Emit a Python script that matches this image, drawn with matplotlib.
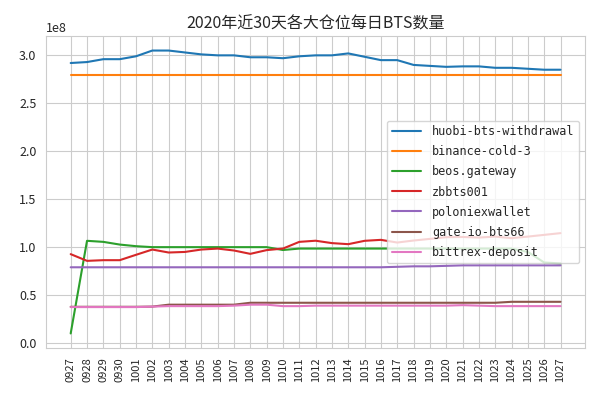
import matplotlib
matplotlib.use('Agg')
import matplotlib.pyplot as plt
import seaborn as sns

dates = ['0927', '0928', '0929', '0930', '1001', '1002', '1003', '1004', '1005', '1006',
         '1007', '1008', '1009', '1010', '1011', '1012', '1013', '1014', '1015', '1016',
         '1017', '1018', '1019', '1020', '1021', '1022', '1023', '1024', '1025', '1026', '1027']

# values in 1e8 BTS
huobi = [2.92, 2.93, 2.96, 2.96, 2.99, 3.05, 3.05, 3.03, 3.01, 3.00,
         3.00, 2.98, 2.98, 2.97, 2.99, 3.00, 3.00, 3.02, 2.985, 2.95,
         2.95, 2.90, 2.89, 2.88, 2.885, 2.885, 2.87, 2.87, 2.86, 2.85, 2.85]
binance = [2.80] * 31
beos = [0.10, 1.066, 1.055, 1.027, 1.01, 1.00, 1.00, 1.00, 1.00, 1.00,
        1.00, 1.00, 1.00, 0.97, 0.985, 0.985, 0.985, 0.985, 0.985, 0.985,
        0.985, 0.985, 0.985, 0.985, 0.985, 0.985, 0.985, 0.985, 0.95, 0.84, 0.83]
zbbts = [0.927, 0.857, 0.864, 0.864, 0.92, 0.975, 0.944, 0.95, 0.975, 0.985,
         0.965, 0.93, 0.969, 0.985, 1.055, 1.067, 1.042, 1.031, 1.066, 1.076,
         1.048, 1.069, 1.086, 1.104, 1.106, 1.10, 1.11, 1.094, 1.11, 1.128, 1.146]
poloniex = [0.79, 0.79, 0.79, 0.79, 0.79, 0.79, 0.79, 0.79, 0.79, 0.79,
            0.79, 0.79, 0.79, 0.79, 0.79, 0.79, 0.79, 0.79, 0.79, 0.79,
            0.795, 0.80, 0.80, 0.805, 0.81, 0.81, 0.81, 0.81, 0.81, 0.81, 0.81]
gateio = [0.378, 0.378, 0.378, 0.378, 0.378, 0.38, 0.40, 0.40, 0.40, 0.40,
          0.40, 0.42, 0.42, 0.42, 0.42, 0.42, 0.42, 0.42, 0.42, 0.42,
          0.42, 0.42, 0.42, 0.42, 0.42, 0.42, 0.42, 0.43, 0.43, 0.43, 0.43]
bittrex = [0.375, 0.375, 0.375, 0.375, 0.375, 0.38, 0.385, 0.385, 0.385, 0.385,
           0.39, 0.40, 0.40, 0.385, 0.385, 0.39, 0.39, 0.39, 0.39, 0.39,
           0.39, 0.39, 0.39, 0.39, 0.395, 0.39, 0.385, 0.385, 0.385, 0.385, 0.385]

series = [
    ('huobi-bts-withdrawal', huobi),
    ('binance-cold-3', binance),
    ('beos.gateway', beos),
    ('zbbts001', zbbts),
    ('poloniexwallet', poloniex),
    ('gate-io-bts66', gateio),
    ('bittrex-deposit', bittrex),
]

sns.set_style('whitegrid')
plt.rcParams['font.family'] = ['Noto Sans CJK SC', 'DejaVu Sans']
plt.rcParams['axes.unicode_minus'] = False

fig = plt.figure(figsize=(6, 4), dpi=100)
ax = fig.add_axes([0.077, 0.131, 0.898, 0.778])

for name, vals in series:
    ax.plot(dates, [v * 1e8 for v in vals], label=name, linewidth=1.5)

ax.set_title('2020年近30天各大仓位每日BTS数量', fontsize=11.5)
ax.tick_params(axis='x', labelsize=8, rotation=90)
ax.tick_params(axis='y', labelsize=9)
ax.yaxis.get_offset_text().set_fontsize(9)

ax.legend(loc='center right', prop={'family': 'DejaVu Sans Mono', 'size': 8.5},
          labelspacing=0.6, handlelength=2.5, handletextpad=0.9)

fig.savefig('out.png', dpi=100)
